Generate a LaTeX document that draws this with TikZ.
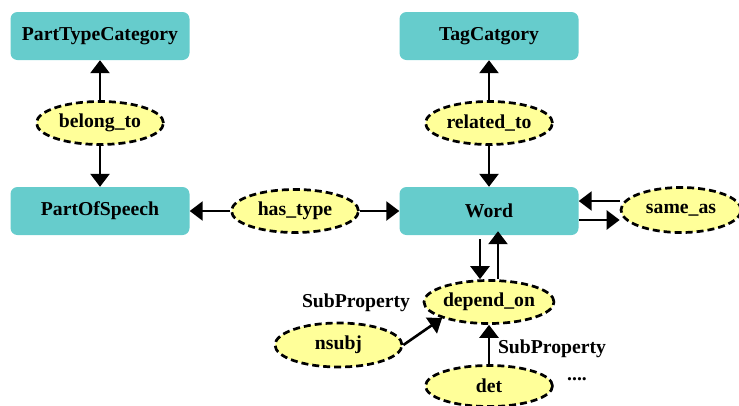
\documentclass[tikz,border=0pt]{standalone}
\usepackage{fontspec}
\setmainfont{Liberation Serif}
\usetikzlibrary{shapes.geometric,arrows.meta}
\definecolor{boxteal}{HTML}{66CCCC}
\definecolor{ellyellow}{HTML}{FFFF99}
\begin{document}
\begin{tikzpicture}[x=1pt,y=-1pt,
  every node/.style={font=\fontsize{19.7}{22}\selectfont\bfseries},
  classbox/.style={rectangle,rounded corners=7pt,fill=boxteal,minimum width=179pt,minimum height=48pt,inner sep=0pt},
  relell/.style={ellipse,draw,fill=ellyellow,line width=2.7pt,dash pattern=on 7pt off 4pt,minimum width=127pt,minimum height=43pt,inner sep=0pt},
  conn/.style={line width=2.6pt,-{Triangle[length=13pt,width=19pt]}},
  lbl/.style={inner sep=0pt}]
\useasboundingbox (0,0) rectangle (739,405);
\node[classbox] (ptc) at (100,36) {PartTypeCategory};
\node[classbox] (tag) at (489,36) {TagCatgory};
\node[classbox] (pos) at (100,211) {PartOfSpeech};
\node[classbox] (word) at (489,211) {Word};
\node[relell] (belong) at (100,123) {belong\_to};
\node[relell] (related) at (489,123) {related\_to};
\node[relell] (hastype) at (295,211) {has\_type};
\node[relell,minimum width=120pt,minimum height=45pt] (same) at (681,210) {same\_as};
\node[relell] (depend) at (489,302) {depend\_on};
\node[relell,minimum height=41pt] (det) at (489,386) {det};
\node[relell,minimum height=44pt] (nsubj) at (338.5,345) {nsubj};
\node[lbl] (sp1) at (356,303) {SubProperty};
\node[lbl] (sp2) at (552,349) {SubProperty};
\node[lbl] (dots) at (577,379) {....};
\draw[conn] (belong) -- (ptc);
\draw[conn] (belong) -- (pos);
\draw[conn] (related) -- (tag);
\draw[conn] (related) -- (word);
\draw[conn] (hastype) -- (pos);
\draw[conn] (hastype) -- (word);
\draw[conn] (same.west |- 0,201) -- (word.east |- 0,201);
\draw[conn] (word.east |- 0,220) -- (same.west |- 0,220);
\draw[conn] (word.south -| 480,0) ++(0,4) -- (depend.north -| 480,0);
\draw[conn] (depend.north -| 498,0) -- ([yshift=4pt]word.south -| 498,0);
\draw[conn] (nsubj.east) -- (depend.south west);
\draw[conn] (det) -- (depend);
\end{tikzpicture}
\end{document}
